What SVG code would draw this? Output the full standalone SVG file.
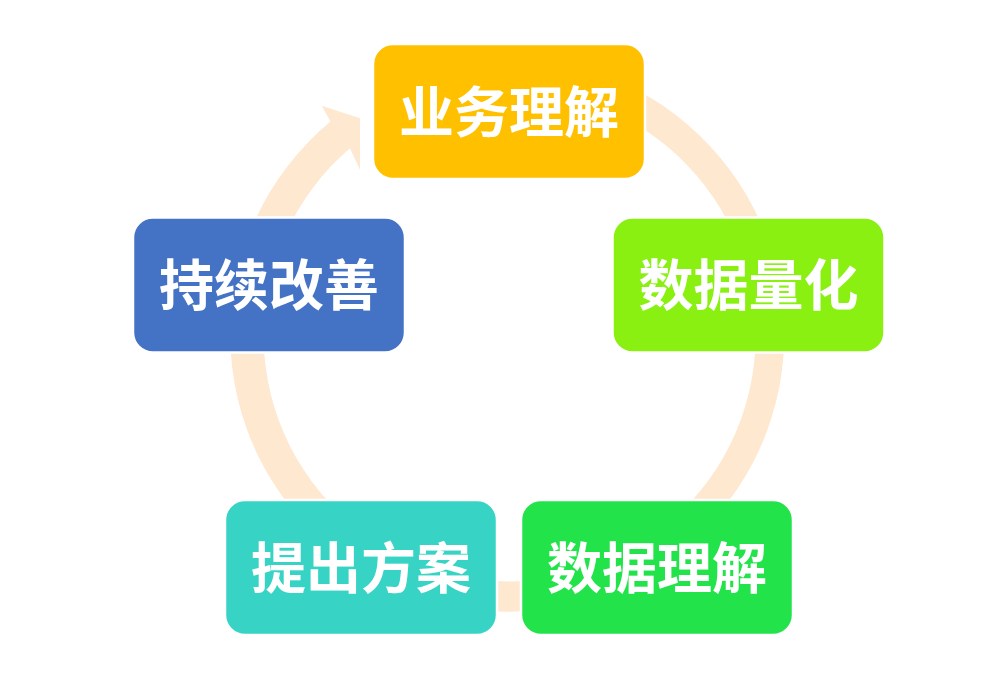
<svg xmlns="http://www.w3.org/2000/svg" width="1000" height="692" viewBox="0 0 1000 692">
  <style>
    .box { stroke: #ffffff; stroke-width: 2.5; }
    .lbl { font-family: "Noto Sans CJK SC", "Microsoft YaHei", sans-serif; font-size: 55px; font-weight: bold; fill: #ffffff; text-anchor: middle; dominant-baseline: central; }
  </style>
  <rect width="1000" height="692" fill="#ffffff"/>
  <g id="connectors">
    <path id="cycle-arrow" fill="#FEE8D0"
      d="M 579.7 67.4 A 277 277 0 1 1 330.5 121.5 L 321.7 105.7 L 360 118.3 L 360 170 L 350 148.3 A 246 246 0 1 0 571.7 97.4 Z"/>
  </g>
  <g id="node-1">
    <rect class="box" x="373" y="44" width="272" height="135" rx="20" fill="#FFC000"/>
    <text class="lbl" x="509" y="108">业务理解</text>
  </g>
  <g id="node-2">
    <rect class="box" x="612.5" y="217.5" width="272" height="135" rx="20" fill="#8AF012"/>
    <text class="lbl" x="748.5" y="281">数据量化</text>
  </g>
  <g id="node-3">
    <rect class="box" x="521" y="500" width="272" height="135" rx="20" fill="#23E34B"/>
    <text class="lbl" x="657" y="564">数据理解</text>
  </g>
  <g id="node-4">
    <rect class="box" x="225" y="500" width="272" height="135" rx="20" fill="#37D4C5"/>
    <text class="lbl" x="361" y="564">提出方案</text>
  </g>
  <g id="node-5">
    <rect class="box" x="133" y="217.5" width="272" height="135" rx="20" fill="#4472C4"/>
    <text class="lbl" x="269" y="281">持续改善</text>
  </g>
</svg>
